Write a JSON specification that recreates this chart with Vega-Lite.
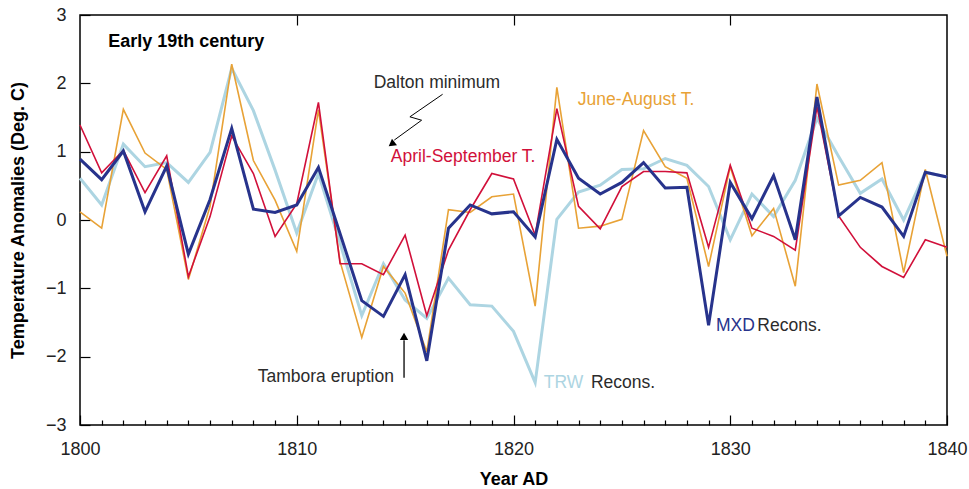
{
"$schema": "https://vega.github.io/schema/vega-lite/v6.json",
"width": 867, "height": 410,
"autosize": {"type": "none"},
"padding": {"left": 80, "top": 15, "right": 22, "bottom": 64},
"background": "white",
"config": {
  "font": "Liberation Sans",
  "view": {"stroke": "black", "strokeWidth": 1.5},
  "axis": {"labelFont": "Liberation Sans", "labelFontSize": 18, "labelColor": "#222", "titleFont": "Liberation Sans", "titleFontSize": 18, "titleFontWeight": "bold", "titleColor": "black", "domain": false, "grid": false, "tickColor": "black", "tickWidth": 1.2, "labelFlush": false}
},
"datasets": {
  "temps": [
    {"yr":1800,"s":"MXD","v":0.89},{"yr":1800,"s":"AS","v":1.39},{"yr":1800,"s":"JJA","v":0.12},{"yr":1800,"s":"TRW","v":0.61},
    {"yr":1801,"s":"MXD","v":0.59},{"yr":1801,"s":"AS","v":0.69},{"yr":1801,"s":"JJA","v":-0.12},{"yr":1801,"s":"TRW","v":0.22},
    {"yr":1802,"s":"MXD","v":1.01},{"yr":1802,"s":"AS","v":1.02},{"yr":1802,"s":"JJA","v":1.62},{"yr":1802,"s":"TRW","v":1.11},
    {"yr":1803,"s":"MXD","v":0.12},{"yr":1803,"s":"AS","v":0.40},{"yr":1803,"s":"JJA","v":0.98},{"yr":1803,"s":"TRW","v":0.78},
    {"yr":1804,"s":"MXD","v":0.79},{"yr":1804,"s":"AS","v":0.94},{"yr":1804,"s":"JJA","v":0.74},{"yr":1804,"s":"TRW","v":0.84},
    {"yr":1805,"s":"MXD","v":-0.50},{"yr":1805,"s":"AS","v":-0.83},{"yr":1805,"s":"JJA","v":-0.87},{"yr":1805,"s":"TRW","v":0.55},
    {"yr":1806,"s":"MXD","v":0.30},{"yr":1806,"s":"AS","v":0.05},{"yr":1806,"s":"JJA","v":0.20},{"yr":1806,"s":"TRW","v":0.99},
    {"yr":1807,"s":"MXD","v":1.34},{"yr":1807,"s":"AS","v":1.23},{"yr":1807,"s":"JJA","v":2.28},{"yr":1807,"s":"TRW","v":2.22},
    {"yr":1808,"s":"MXD","v":0.16},{"yr":1808,"s":"AS","v":0.68},{"yr":1808,"s":"JJA","v":0.87},{"yr":1808,"s":"TRW","v":1.60},
    {"yr":1809,"s":"MXD","v":0.11},{"yr":1809,"s":"AS","v":-0.24},{"yr":1809,"s":"JJA","v":0.29},{"yr":1809,"s":"TRW","v":0.73},
    {"yr":1810,"s":"MXD","v":0.22},{"yr":1810,"s":"AS","v":0.24},{"yr":1810,"s":"JJA","v":-0.46},{"yr":1810,"s":"TRW","v":-0.19},
    {"yr":1811,"s":"MXD","v":0.77},{"yr":1811,"s":"AS","v":1.72},{"yr":1811,"s":"JJA","v":1.61},{"yr":1811,"s":"TRW","v":0.68},
    {"yr":1812,"s":"MXD","v":-0.20},{"yr":1812,"s":"AS","v":-0.64},{"yr":1812,"s":"JJA","v":-0.61},{"yr":1812,"s":"TRW","v":-0.34},
    {"yr":1813,"s":"MXD","v":-1.18},{"yr":1813,"s":"AS","v":-0.64},{"yr":1813,"s":"JJA","v":-1.72},{"yr":1813,"s":"TRW","v":-1.40},
    {"yr":1814,"s":"MXD","v":-1.41},{"yr":1814,"s":"AS","v":-0.80},{"yr":1814,"s":"JJA","v":-0.68},{"yr":1814,"s":"TRW","v":-0.64},
    {"yr":1815,"s":"MXD","v":-0.80},{"yr":1815,"s":"AS","v":-0.22},{"yr":1815,"s":"JJA","v":-1.07},{"yr":1815,"s":"TRW","v":-1.17},
    {"yr":1816,"s":"MXD","v":-2.06},{"yr":1816,"s":"AS","v":-1.40},{"yr":1816,"s":"JJA","v":-1.93},{"yr":1816,"s":"TRW","v":-1.44},
    {"yr":1817,"s":"MXD","v":-0.12},{"yr":1817,"s":"AS","v":-0.44},{"yr":1817,"s":"JJA","v":0.15},{"yr":1817,"s":"TRW","v":-0.85},
    {"yr":1818,"s":"MXD","v":0.22},{"yr":1818,"s":"AS","v":0.15},{"yr":1818,"s":"JJA","v":0.11},{"yr":1818,"s":"TRW","v":-1.24},
    {"yr":1819,"s":"MXD","v":0.09},{"yr":1819,"s":"AS","v":0.68},{"yr":1819,"s":"JJA","v":0.34},{"yr":1819,"s":"TRW","v":-1.26},
    {"yr":1820,"s":"MXD","v":0.12},{"yr":1820,"s":"AS","v":0.60},{"yr":1820,"s":"JJA","v":0.38},{"yr":1820,"s":"TRW","v":-1.63},
    {"yr":1821,"s":"MXD","v":-0.25},{"yr":1821,"s":"AS","v":-0.22},{"yr":1821,"s":"JJA","v":-1.26},{"yr":1821,"s":"TRW","v":-2.38},
    {"yr":1822,"s":"MXD","v":1.18},{"yr":1822,"s":"AS","v":1.63},{"yr":1822,"s":"JJA","v":1.94},{"yr":1822,"s":"TRW","v":0.01},
    {"yr":1823,"s":"MXD","v":0.61},{"yr":1823,"s":"AS","v":0.20},{"yr":1823,"s":"JJA","v":-0.12},{"yr":1823,"s":"TRW","v":0.41},
    {"yr":1824,"s":"MXD","v":0.38},{"yr":1824,"s":"AS","v":-0.13},{"yr":1824,"s":"JJA","v":-0.09},{"yr":1824,"s":"TRW","v":0.51},
    {"yr":1825,"s":"MXD","v":0.55},{"yr":1825,"s":"AS","v":0.49},{"yr":1825,"s":"JJA","v":0.01},{"yr":1825,"s":"TRW","v":0.74},
    {"yr":1826,"s":"MXD","v":0.84},{"yr":1826,"s":"AS","v":0.71},{"yr":1826,"s":"JJA","v":1.31},{"yr":1826,"s":"TRW","v":0.75},
    {"yr":1827,"s":"MXD","v":0.47},{"yr":1827,"s":"AS","v":0.71},{"yr":1827,"s":"JJA","v":0.78},{"yr":1827,"s":"TRW","v":0.90},
    {"yr":1828,"s":"MXD","v":0.48},{"yr":1828,"s":"AS","v":0.69},{"yr":1828,"s":"JJA","v":0.61},{"yr":1828,"s":"TRW","v":0.80},
    {"yr":1829,"s":"MXD","v":-1.54},{"yr":1829,"s":"AS","v":-0.40},{"yr":1829,"s":"JJA","v":-0.68},{"yr":1829,"s":"TRW","v":0.49},
    {"yr":1830,"s":"MXD","v":0.55},{"yr":1830,"s":"AS","v":0.80},{"yr":1830,"s":"JJA","v":0.78},{"yr":1830,"s":"TRW","v":-0.29},
    {"yr":1831,"s":"MXD","v":0.02},{"yr":1831,"s":"AS","v":-0.12},{"yr":1831,"s":"JJA","v":-0.23},{"yr":1831,"s":"TRW","v":0.38},
    {"yr":1832,"s":"MXD","v":0.65},{"yr":1832,"s":"AS","v":-0.24},{"yr":1832,"s":"JJA","v":0.17},{"yr":1832,"s":"TRW","v":0.05},
    {"yr":1833,"s":"MXD","v":-0.29},{"yr":1833,"s":"AS","v":-0.44},{"yr":1833,"s":"JJA","v":-0.97},{"yr":1833,"s":"TRW","v":0.58},
    {"yr":1834,"s":"MXD","v":1.80},{"yr":1834,"s":"AS","v":1.66},{"yr":1834,"s":"JJA","v":1.99},{"yr":1834,"s":"TRW","v":1.49},
    {"yr":1835,"s":"MXD","v":0.06},{"yr":1835,"s":"AS","v":0.06},{"yr":1835,"s":"JJA","v":0.51},{"yr":1835,"s":"TRW","v":0.93},
    {"yr":1836,"s":"MXD","v":0.33},{"yr":1836,"s":"AS","v":-0.40},{"yr":1836,"s":"JJA","v":0.58},{"yr":1836,"s":"TRW","v":0.39},
    {"yr":1837,"s":"MXD","v":0.19},{"yr":1837,"s":"AS","v":-0.68},{"yr":1837,"s":"JJA","v":0.84},{"yr":1837,"s":"TRW","v":0.60},
    {"yr":1838,"s":"MXD","v":-0.24},{"yr":1838,"s":"AS","v":-0.84},{"yr":1838,"s":"JJA","v":-0.77},{"yr":1838,"s":"TRW","v":0.00},
    {"yr":1839,"s":"MXD","v":0.70},{"yr":1839,"s":"AS","v":-0.29},{"yr":1839,"s":"JJA","v":0.74},{"yr":1839,"s":"TRW","v":0.70},
    {"yr":1840,"s":"MXD","v":0.63},{"yr":1840,"s":"AS","v":-0.40},{"yr":1840,"s":"JJA","v":-0.53},{"yr":1840,"s":"TRW","v":0.63}
  ],
  "labels": [
    {"yr":1801.3,"v":2.6,"label":"Early 19th century","g":"title"},
    {"yr":1813.55,"v":2.0,"label":"Dalton minimum","g":"dark"},
    {"yr":1808.2,"v":-2.3,"label":"Tambora eruption","g":"dark"},
    {"yr":1823.57,"v":-2.38,"label":"Recons.","g":"dark"},
    {"yr":1831.25,"v":-1.55,"label":"Recons.","g":"dark"},
    {"yr":1814.34,"v":0.92,"label":"April-September T.","g":"AS"},
    {"yr":1822.97,"v":1.75,"label":"June-August T.","g":"JJA"},
    {"yr":1821.4,"v":-2.38,"label":"TRW","g":"TRW"},
    {"yr":1829.34,"v":-1.55,"label":"MXD","g":"MXD"}
  ],
  "squiggle": [
    {"i":0,"yr":1816.73,"v":1.84},
    {"i":1,"yr":1815.22,"v":1.51},
    {"i":2,"yr":1815.76,"v":1.46},
    {"i":3,"yr":1814.5,"v":1.17}
  ],
  "tambora": [
    {"yr":1814.95,"v":-2.31,"v2":-1.76}
  ],
  "heads": [
    {"yr":1814.42,"v":1.12,"dir":233},
    {"yr":1814.95,"v":-1.72,"dir":0}
  ]
},
"layer": [
  {
    "data": {"name": "temps"},
    "transform": [{"filter": "datum.s === 'TRW'"}],
    "mark": {"type": "line", "color": "#add5e2", "strokeWidth": 3},
    "encoding": {
      "x": {"field": "yr", "type": "quantitative", "scale": {"domain": [1800, 1840], "nice": false, "zero": false},
        "axis": {"orient": "bottom", "title": "Year AD", "values": [1800,1801,1802,1803,1804,1805,1806,1807,1808,1809,1810,1811,1812,1813,1814,1815,1816,1817,1818,1819,1820,1821,1822,1823,1824,1825,1826,1827,1828,1829,1830,1831,1832,1833,1834,1835,1836,1837,1838,1839,1840],
          "format": "d", "labelExpr": "datum.value % 10 === 0 ? datum.label : ''", "labelOverlap": false,
          "tickSize": {"condition": {"test": "datum.value % 10 === 0", "value": -10}, "value": -5},
          "labelPadding": 25, "titlePadding": 7}},
      "y": {"field": "v", "type": "quantitative", "scale": {"domain": [-3, 3], "nice": false},
        "axis": {"title": "Temperature Anomalies (Deg. C)", "values": [-3,-2,-1,0,1,2,3], "format": "d", "tickSize": -10, "labelPadding": 24, "titlePadding": 18}}
    }
  },
  {
    "data": {"name": "temps"},
    "transform": [{"filter": "datum.s === 'JJA'"}],
    "mark": {"type": "line", "color": "#e8a236", "strokeWidth": 1.6},
    "encoding": {
      "x": {"field": "yr", "type": "quantitative", "axis": null},
      "y": {"field": "v", "type": "quantitative"}
    }
  },
  {
    "data": {"name": "temps"},
    "transform": [{"filter": "datum.s === 'AS'"}],
    "mark": {"type": "line", "color": "#d1103a", "strokeWidth": 1.6},
    "encoding": {
      "x": {"field": "yr", "type": "quantitative", "axis": null},
      "y": {"field": "v", "type": "quantitative"}
    }
  },
  {
    "data": {"name": "temps"},
    "transform": [{"filter": "datum.s === 'MXD'"}],
    "mark": {"type": "line", "color": "#27338c", "strokeWidth": 3},
    "encoding": {
      "x": {"field": "yr", "type": "quantitative", "axis": null},
      "y": {"field": "v", "type": "quantitative"}
    }
  },
  {
    "data": {"name": "labels"},
    "transform": [{"filter": "datum.g === 'title'"}],
    "mark": {"type": "text", "align": "left", "baseline": "middle", "fontSize": 18, "fontWeight": "bold", "color": "black"},
    "encoding": {
      "x": {"field": "yr", "type": "quantitative", "axis": {"orient": "top", "title": null, "values": [1810, 1820, 1830], "labels": false, "tickSize": -10}},
      "y": {"field": "v", "type": "quantitative"},
      "text": {"field": "label"}
    }
  },
  {
    "data": {"name": "labels"},
    "transform": [{"filter": "datum.g !== 'title'"}],
    "mark": {"type": "text", "align": "left", "baseline": "middle", "fontSize": 17.5},
    "encoding": {
      "x": {"field": "yr", "type": "quantitative", "axis": null},
      "y": {"field": "v", "type": "quantitative"},
      "text": {"field": "label"},
      "color": {"field": "g", "type": "nominal", "legend": null,
        "scale": {"domain": ["dark", "AS", "JJA", "TRW", "MXD"], "range": ["#2b2b2b", "#d1103a", "#e8a236", "#add5e2", "#27338c"]}}
    }
  },
  {
    "data": {"name": "squiggle"},
    "mark": {"type": "line", "color": "black", "strokeWidth": 1},
    "encoding": {
      "x": {"field": "yr", "type": "quantitative", "axis": null},
      "y": {"field": "v", "type": "quantitative"},
      "order": {"field": "i", "type": "quantitative"}
    }
  },
  {
    "data": {"name": "tambora"},
    "mark": {"type": "rule", "color": "black", "strokeWidth": 1.3},
    "encoding": {
      "x": {"field": "yr", "type": "quantitative", "axis": null},
      "y": {"field": "v", "type": "quantitative"},
      "y2": {"field": "v2"}
    }
  },
  {
    "data": {"name": "heads"},
    "mark": {"type": "point", "shape": "triangle", "filled": true, "color": "black", "size": 70, "opacity": 1},
    "encoding": {
      "x": {"field": "yr", "type": "quantitative", "axis": null},
      "y": {"field": "v", "type": "quantitative"},
      "angle": {"field": "dir", "type": "quantitative", "scale": null}
    }
  }
],
"resolve": {"axis": {"x": "independent"}}
}
